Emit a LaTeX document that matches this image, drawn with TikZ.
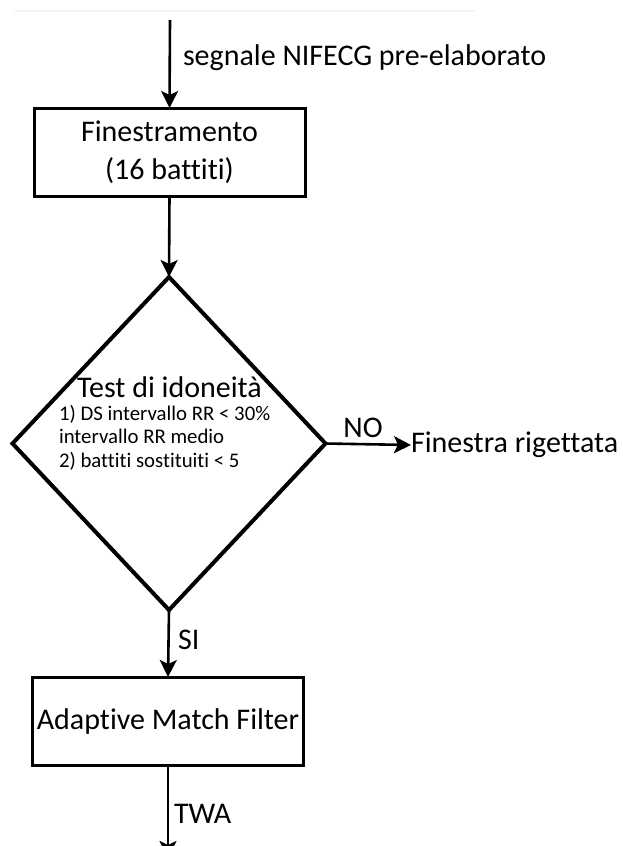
\documentclass[tikz,border=0pt]{standalone}
\usepackage{fontspec}
\setmainfont{Carlito}[Ligatures=NoCommon]
\usetikzlibrary{arrows.meta,shapes.geometric}
\tikzset{
  bigtxt/.style={font=\fontsize{30}{38}\selectfont, inner sep=0pt, outer sep=0pt},
  smalltxt/.style={font=\fontsize{20.8}{23.5}\selectfont, inner sep=0pt, outer sep=0pt, align=left},
  procbox/.style={draw, line width=3pt, minimum width=271pt, minimum height=88pt, inner sep=0pt, outer sep=0pt, align=center, font=\fontsize{30}{38}\selectfont},
  decis/.style={draw, diamond, line width=4pt, minimum width=313pt, minimum height=333pt, inner sep=0pt, outer sep=0pt},
  arr/.style={line width=2.6pt, -{Stealth[length=17pt,width=17pt,inset=4pt]}}
}
\begin{document}
\begin{tikzpicture}[x=1pt,y=-1pt]
\useasboundingbox (0,0) rectangle (622,846);
\clip (0,0) rectangle (622,846);
\fill[white] (0,0) rectangle (622,846);
\draw[black!4, line width=2pt] (14,11) -- (475,11);

\coordinate (in) at (170,20);
\node[procbox] (b1) at (169.5,152) {Finestramento\\(16 battiti)};
\node[bigtxt, anchor=base west] (lab1) at (183,65) {segnale NIFECG pre-elaborato};
\draw[arr] (in) -- (b1.north);

\node[decis] (d) at (169,443.5) {};
\draw[arr] (b1.south) -- (d.north);
\node[bigtxt, anchor=base] (t1) at (169.5,397) {Test di idoneità};
\node[smalltxt, anchor=base west] (t2) at (59,467) {1) DS intervallo RR < 30\%\\intervallo RR medio\\2) battiti sostituiti < 5};

\node[bigtxt, anchor=west] (rej) at (411,445) {Finestra rigettata};
\draw[arr] (d.east) -- (rej.west);
\node[bigtxt, anchor=base] (no) at (363,437) {NO};

\node[procbox, minimum width=271pt] (b2) at (168,721) {Adaptive Match Filter};
\draw[arr] (d.south) -- (b2.north);
\node[bigtxt, anchor=base west] (si) at (178,649) {SI};

\coordinate (out) at (168,858);
\draw[arr] (b2.south) -- (out);
\node[bigtxt, anchor=base west] (twa) at (174,823) {TWA};
\end{tikzpicture}
\end{document}
